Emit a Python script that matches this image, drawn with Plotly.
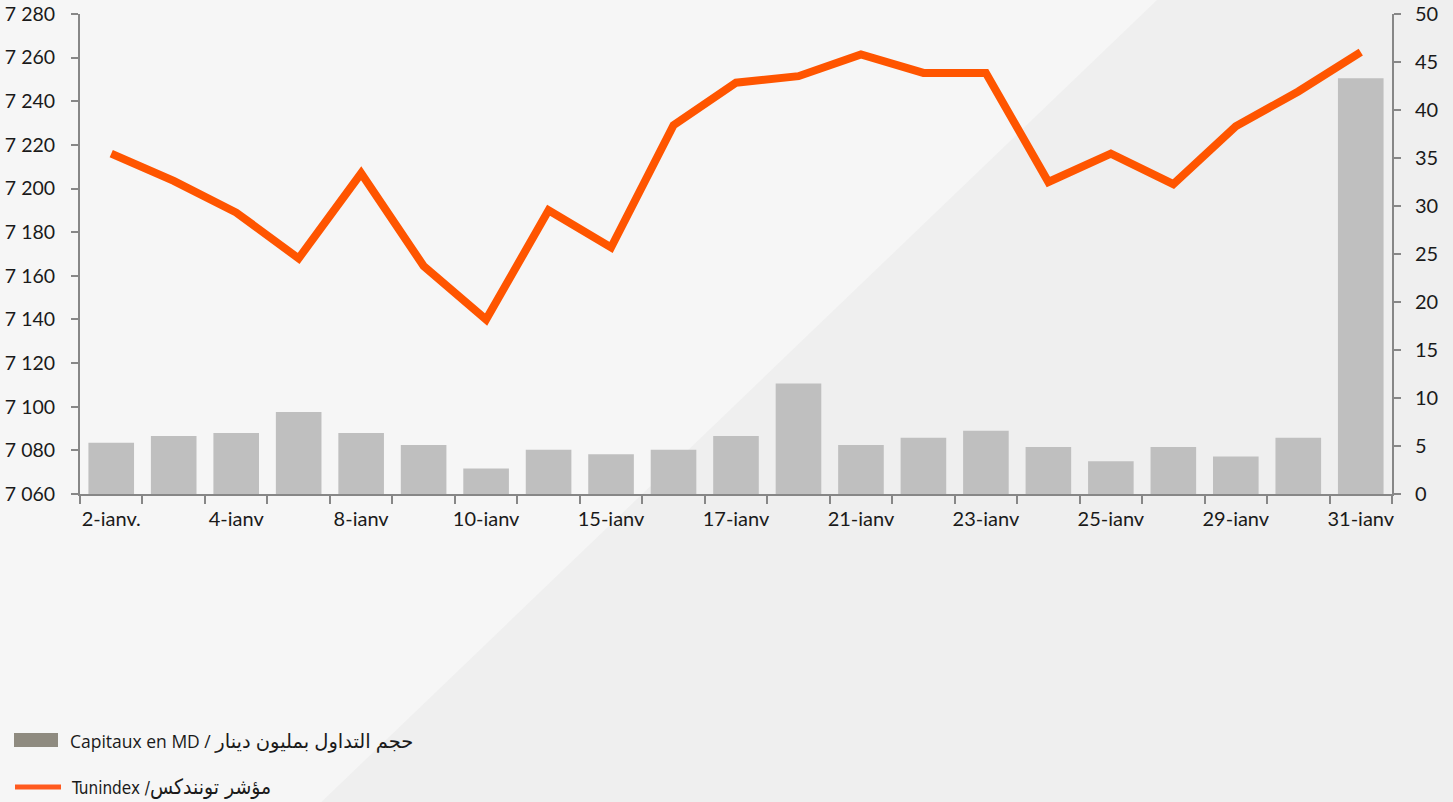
import plotly.graph_objects as go

dates = ["2-ianv.", "3-ianv", "4-ianv", "7-ianv", "8-ianv", "9-ianv", "10-ianv",
         "11-ianv", "15-ianv", "16-ianv", "17-ianv", "18-ianv", "21-ianv", "22-ianv",
         "23-ianv", "24-ianv", "25-ianv", "28-ianv", "29-ianv", "30-ianv", "31-ianv"]
shown_labels = ["2-ianv.", "4-ianv", "8-ianv", "10-ianv", "15-ianv", "17-ianv",
                "21-ianv", "23-ianv", "25-ianv", "29-ianv", "31-ianv"]
capitaux = [5.35, 6.05, 6.35, 8.55, 6.35, 5.1, 2.65, 4.6, 4.15, 4.6, 6.05,
            11.5, 5.1, 5.85, 6.6, 4.9, 3.4, 4.9, 3.9, 5.85, 43.3]
tunindex = [7216, 7203.5, 7189, 7168, 7207, 7164.5, 7140, 7190, 7173, 7229, 7248.5,
            7251.5, 7261.5, 7253, 7253, 7203, 7216, 7202, 7228.5, 7244.5, 7262.5]
left_range = [7060, 7280]
right_range = [0, 50]
legend_bar_fr = "Capitaux en MD / "
legend_bar_ar = "حجم التداول بمليون دينار"
legend_line_fr = "Tunindex /"
legend_line_ar = "مؤشر تونندكس"

ticktext = [d if d in shown_labels else "" for d in dates]

fig = go.Figure()
fig.add_trace(go.Bar(x=dates, y=capitaux, yaxis="y2", marker=dict(color="#bfbfbf", line=dict(width=0)),
                     name=legend_bar_fr + legend_bar_ar, showlegend=False))
fig.add_trace(go.Scatter(x=dates, y=tunindex, yaxis="y", mode="lines",
                         line=dict(color="#ff5500", width=8), name=legend_line_fr + legend_line_ar,
                         showlegend=False))

axis_col = "#878787"
font_fam = "Lato, 'Open Sans', sans-serif"

fig.update_layout(
    width=1453, height=802, autosize=False,
    margin=dict(l=80, r=61, t=14, b=308, autoexpand=False),
    paper_bgcolor="#f6f6f6", plot_bgcolor="rgba(0,0,0,0)",
    separators=". ",
    bargap=0.27,
    font=dict(family=font_fam, size=20, color="#1a1a1a"),
    xaxis=dict(type="category", categoryorder="array", categoryarray=dates,
               tickvals=dates, ticktext=ticktext, tickson="boundaries",
               ticks="outside", ticklen=8, tickwidth=1.5, tickcolor=axis_col,
               showline=True, linecolor=axis_col, linewidth=2, showgrid=False,
               tickangle=0, ticklabelstandoff=6, range=[-0.5, 20.5], automargin=False),
    yaxis=dict(range=left_range, dtick=20, tickformat=",d", showgrid=False,
               ticks="outside", ticklen=7, tickwidth=1.5, tickcolor=axis_col,
               showline=True, linecolor=axis_col, linewidth=2, zeroline=False,
               ticklabelstandoff=12, automargin=False, tickfont=dict(size=19.5)),
    yaxis2=dict(range=right_range, dtick=5, overlaying="y", side="right", showgrid=False,
                ticks="outside", ticklen=7, tickwidth=1.5, tickcolor=axis_col,
                showline=True, linecolor=axis_col, linewidth=2, zeroline=False,
                ticklabelstandoff=10, automargin=False),
    showlegend=False,
)

# background diagonal shading (pixel -> paper coords)
def px(xp):
    return (xp - 80) / 1312.0

def py(yp):
    return (494 - yp) / 480.0

path = "M {} {} L {} {} L {} {} L {} {} Z".format(px(1157), py(0), px(1460), py(0),
                                                    px(1460), py(810), px(313), py(810))
fig.add_shape(type="path", path=path, xref="paper", yref="paper", layer="below",
              fillcolor="#efefef", line=dict(width=0))

# manual legend
fig.add_shape(type="rect", xref="paper", yref="paper", x0=px(14), x1=px(58), y0=py(747), y1=py(733),
              fillcolor="#8f8b80", line=dict(width=0))
fig.add_annotation(xref="paper", yref="paper", x=px(68), y=py(740), xanchor="left", yanchor="middle",
                   text=legend_bar_fr + "<span style='font-size:19.5px'>" + legend_bar_ar + "</span>",
                   showarrow=False,
                   font=dict(family="'Open Sans', 'DejaVu Sans', sans-serif", size=17.5, color="#1a1a1a"))
fig.add_shape(type="line", xref="paper", yref="paper", x0=px(15), x1=px(61), y0=py(787), y1=py(787),
              line=dict(color="#ff5a1f", width=5))
fig.add_annotation(xref="paper", yref="paper", x=px(69), y=py(787), xanchor="left", yanchor="middle",
                   text="<span style='font-size:17px'>" + legend_line_fr + "</span>"
                        + "<span style='font-size:21px'>" + legend_line_ar + "</span>",
                   showarrow=False,
                   font=dict(family="'DejaVu Sans Condensed', 'Liberation Sans Narrow', sans-serif",
                             size=19, color="#1a1a1a"))

fig.write_html("out.html", config={"displayModeBar": False},
               post_script="document.body.style.margin='0';document.body.style.overflow='hidden';")
